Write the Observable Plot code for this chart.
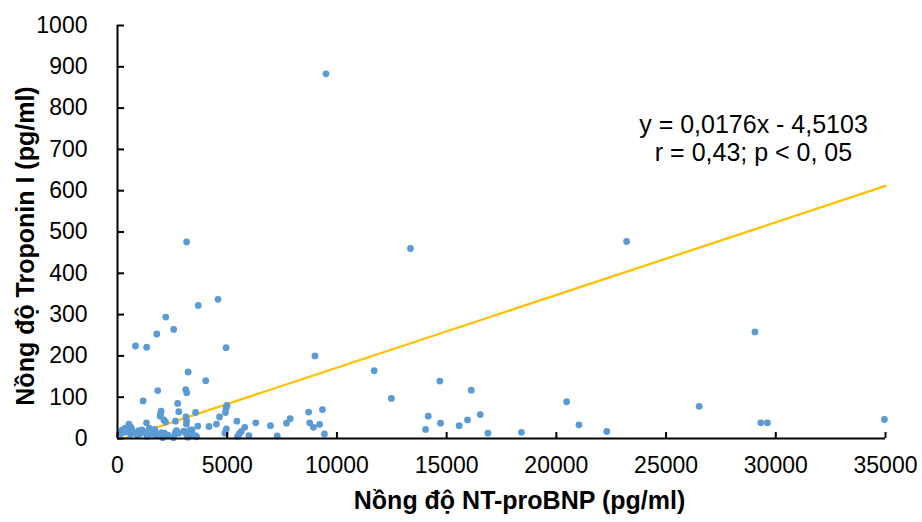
<!DOCTYPE html>
<html>
<head>
<meta charset="utf-8">
<script src="https://cdn.jsdelivr.net/npm/d3@7"></script>
<script src="https://cdn.jsdelivr.net/npm/@observablehq/plot@0.6"></script>
<style>
  html, body { margin: 0; padding: 0; background: #fff; }
  #chart { width: 922px; height: 522px; }
</style>
</head>
<body>
<div id="chart"></div>
<script>
// NT-proBNP (pg/ml)
const ntProBNP = [
  9500, 3150, 13350, 23200, 4580, 3680, 2200, 2560, 1790, 820, 1330, 4950, 29050, 9000, 3220, 4020,
  11700, 12480, 14690, 16120, 20470, 26510, 34950, 29320, 29620, 21030, 22300, 18410, 16880, 16530,
  15950, 15570, 14720, 14160, 14040, 9430, 9210, 8930, 8760, 8710, 9340, 7870, 7700, 7280, 6970,
  6300, 5990, 5800, 5640, 5550, 5470, 5440, 4990, 4950, 4920, 4960, 4900, 4650, 4510, 4170,
  1835, 3110, 3155, 1170, 2740, 1990, 1958, 1945, 2790, 3560, 1320, 520, 2110, 2190, 2640, 3120,
  3660, 3400, 3150, 3140, 2690, 2630, 2550, 3020, 3140, 3200, 3550, 3610, 2060,
  290, 440, 590, 770, 970, 1120, 1280, 1580, 1690, 1780, 2080, 2140, 2610, 2790, 3050, 3320, 3430,
  200, 350, 650, 900, 1050, 1450, 1700, 2000, 2300, 1350, 600, 160
];
// Troponin I (pg/ml)
const troponinI = [
  883, 476, 460, 477, 337, 322, 294, 264, 253, 224, 221, 220, 258, 200, 161, 140,
  164, 97, 139, 117, 89, 78, 46, 38, 38, 33, 17, 15, 13, 58,
  45, 31, 37, 54, 22, 11, 34, 27, 38, 64, 70, 48, 37, 6, 31,
  38, 7, 27, 17, 11, 5, 42, 80, 74, 63, 23, 13, 52, 35, 29,
  116, 118, 111, 91, 85, 66, 59, 54, 65, 63, 38, 35, 45, 40, 42, 52,
  30, 21, 43, 35, 19, 14, 2, 18, 11, 3, 7, 4, 2,
  15, 17, 10, 14, 19, 21, 15, 11, 17, 7, 3, 13, 9, 13, 17, 21, 7,
  20, 25, 22, 8, 12, 25, 22, 14, 8, 5, 28, 12
];
const xTicks = [0, 5000, 10000, 15000, 20000, 25000, 30000, 35000];
const yTicks = [0, 100, 200, 300, 400, 500, 600, 700, 800, 900, 1000];
// trendline y = 0.0176x - 4.5103, drawn across the data range
const trendSlope = 0.0176;
const trendIntercept = -4.5103;
const trendRange = [256, 35000];
const equationLines = "y = 0,0176x - 4,5103\nr = 0,43; p < 0, 05";
const xTitle = "Nồng độ NT-proBNP (pg/ml)";
const yTitle = "Nồng độ Troponin I (pg/ml)";

const points = ntProBNP.map((x, i) => ({x, y: troponinI[i]}));
const trend = trendRange.map(x => ({x, y: trendSlope * x + trendIntercept}));

const font = "'Liberation Sans', Arial, Helvetica, sans-serif";
const W = 922, H = 522, mL = 117, mR = 37, mT = 25, mB = 84;
const frameW = W - mL - mR, frameH = H - mT - mB;

const chart = Plot.plot({
  width: W,
  height: H,
  marginLeft: mL,
  marginRight: mR,
  marginTop: mT,
  marginBottom: mB,
  style: {fontFamily: font, fontSize: "23px", color: "#000", background: "#fff", overflow: "visible"},
  x: {domain: [0, 35000], label: null},
  y: {domain: [0, 1000], label: null},
  marks: [
    Plot.line(trend, {x: "x", y: "y", stroke: "#FFC000", strokeWidth: 2.3}),
    Plot.dot(points, {x: "x", y: "y", r: 3.4, fill: "#5B9BD5", stroke: "none"}),
    Plot.ruleX([0], {stroke: "#000", strokeWidth: 2}),
    Plot.ruleY([0], {stroke: "#000", strokeWidth: 2}),
    // inward tick marks
    Plot.tickX(xTicks, {x: d => d, insetTop: frameH - 6, stroke: "#000", strokeWidth: 2}),
    Plot.tickY(yTicks, {y: d => d, insetRight: frameW - 7, stroke: "#000", strokeWidth: 2}),
    Plot.axisX({ticks: xTicks, tickSize: 0, tickPadding: 18, tickFormat: d3.format("d"), fontSize: 23, label: null}),
    Plot.axisY({ticks: yTicks, tickSize: 0, tickPadding: 30, tickFormat: d3.format("d"), fontSize: 23, label: null}),
    Plot.text([xTitle], {frameAnchor: "bottom", text: d => d, dx: 18, dy: 62, lineAnchor: "middle", textAnchor: "middle", fontSize: 25, fontWeight: "bold", fill: "#000"}),
    Plot.text([yTitle], {frameAnchor: "left", text: d => d, dx: -92, dy: 14, rotate: -90, lineAnchor: "middle", textAnchor: "middle", fontSize: 25, fontWeight: "bold", fill: "#000"}),
    Plot.text([equationLines], {frameAnchor: "top-right", text: d => d, dx: -132, dy: 88, lineAnchor: "top", textAnchor: "middle", lineHeight: 1.12, fontSize: 25, fill: "#000"})
  ]
});
document.getElementById("chart").appendChild(chart);
</script>
</body>
</html>
